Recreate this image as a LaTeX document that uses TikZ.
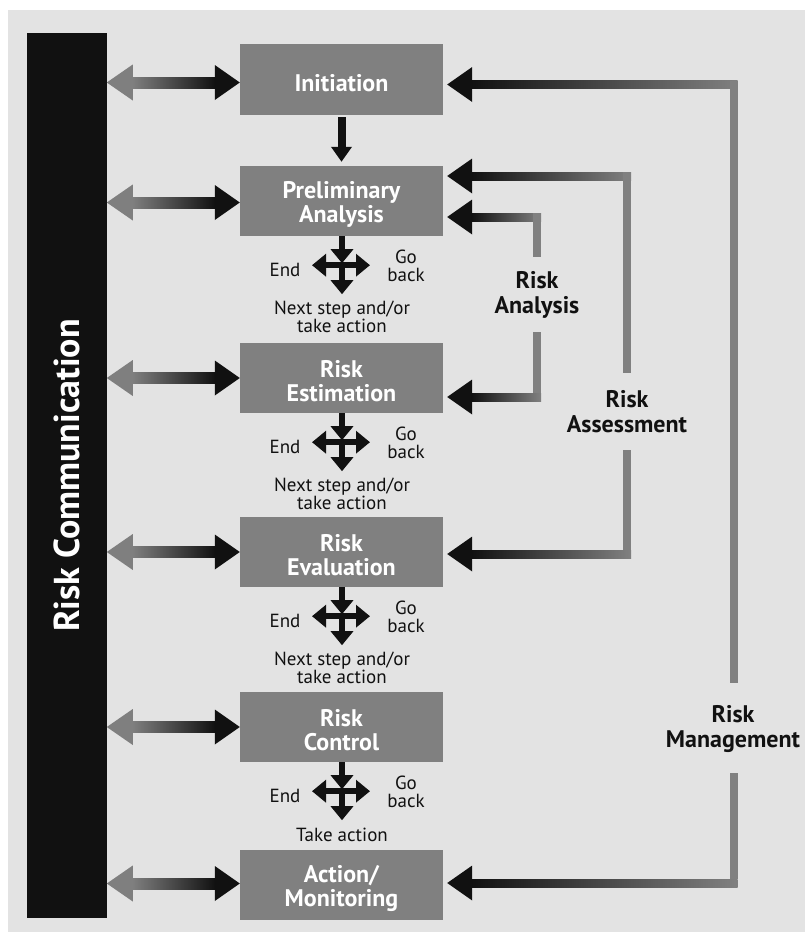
\documentclass[tikz,border=0pt]{standalone}
\usepackage{fontspec}
\setmainfont{PT Sans}
\usetikzlibrary{arrows.meta,calc}
\definecolor{bgc}{HTML}{E3E3E3}
\definecolor{boxc}{HTML}{808080}
\definecolor{dk}{HTML}{111111}
\definecolor{lg}{HTML}{7F7F7F}
\tikzset{
  box/.style={fill=boxc, text=white, minimum width=203pt, minimum height=70pt, inner sep=0pt,
    align=center, font=\bfseries\fontsize{24}{24}\selectfont},
  sidelbl/.style={text=dk, align=center, inner sep=0pt, font=\bfseries\fontsize{24}{25}\selectfont},
  small/.style={text=dk, align=center, inner sep=0pt, font=\fontsize{19}{16.5}\selectfont},
  bigarrow/.style={draw=dk, line width=8pt, -{Triangle[length=15pt,width=20pt]}, fill=dk},
  smallarrow/.style={draw=dk, line width=6pt, -{Triangle[length=14pt,width=22pt]}, fill=dk}
}
\newcommand\commarrow[2]{%
  \begin{scope}[shift={($(#1.west)+(0,#2)$)}]
    \fill[lg] (-133,0) -- (-107,-18) -- (-107,18) -- cycle;
    \shade[left color=lg,right color=dk] (-107.5,-5.5) rectangle (-24.5,5.5);
    \fill[dk] (0,0) -- (-25,-17.5) -- (-25,17.5) -- cycle;
  \end{scope}}
\newcommand\sidearrow[3]{%
  \coordinate (tmp) at ($(#2 -| #1.east)+(4,0)$);
  \fill[dk] (tmp) -- ++(25,-17.5) -- ++(0,35) -- cycle;
  \shade[left color=dk,right color=boxc] ($(tmp)+(24.5,-4)$) rectangle ($(#2)+(4,4)$);
  \fill[boxc] ($(#2)+(-4,-4)$) rectangle ($(#3)+(4,0)$);}
\newcommand\crossarrows[1]{%
  \coordinate (#1-c) at ($(#1.south)+(0.5,29)$);
  \draw[smallarrow] ($(#1.south)+(0.5,0)$) -- ($(#1-c)+(0,-2)$);
  \draw[smallarrow] (#1-c) -- ++(-30,0);
  \draw[smallarrow] (#1-c) -- ++(28,0);
  \draw[smallarrow] (#1-c) -- ++(0,29);
  \node[small] at ($(#1-c)+(-57,5)$) {End};
  \node[small, font=\fontsize{19}{18}\selectfont] at ($(#1-c)+(64,1)$) {Go\\back};}
\begin{document}
\begin{tikzpicture}[x=1pt,y=-1pt]
\useasboundingbox (0,0) rectangle (805,932);
\fill[white] (0,0) rectangle (805,932);
\fill[bgc] (8,10) rectangle (805,932);

% Risk communication bar
\node[fill=dk, text=white, rotate=90, minimum width=885pt, minimum height=80pt, inner sep=0pt,
  font=\bfseries\fontsize{36}{40}\selectfont] (comm) at (67,475.5) {Risk Communication};

% boxes
\node[box, minimum height=71pt] (init) at (341.5,79.5) {};
\node[box] (prelim) at (341.5,201) {};
\node[box] (est) at (341.5,378) {};
\node[box] (eval) at (341.5,552) {};
\node[box] (ctrl) at (341.5,727) {};
\node[box] (act) at (341.5,885) {};
\node[box, fill=none, minimum size=0pt] at ($(init)+(0,4)$) {Initiation};
\node[box, fill=none, minimum size=0pt] at ($(prelim)+(0,3)$) {Preliminary\\Analysis};
\node[box, fill=none, minimum size=0pt] at ($(est)+(0,3)$) {Risk\\Estimation};
\node[box, fill=none, minimum size=0pt] at ($(eval)+(0,3)$) {Risk\\Evaluation};
\node[box, fill=none, minimum size=0pt] at ($(ctrl)+(0,3)$) {Risk\\Control};
\node[box, fill=none, minimum size=0pt] at ($(act)+(0,3)$) {Action/\\Monitoring};

% communication arrows
\commarrow{init}{3}
\commarrow{prelim}{1.5}
\commarrow{est}{0}
\commarrow{eval}{0}
\commarrow{ctrl}{0}
\commarrow{act}{-1.5}

% down arrow
\draw[bigarrow] ($(init.south)+(0,2)$) -- ($(prelim.north)+(0,-4)$);

% cross arrows
\crossarrows{prelim}
\crossarrows{est}
\crossarrows{eval}
\crossarrows{ctrl}
\node[small] at ($(prelim-c)+(0,52)$) {Next step and/or\\take action};
\node[small] at ($(est-c)+(0,52)$) {Next step and/or\\take action};
\node[small] at ($(eval-c)+(0,52)$) {Next step and/or\\take action};
\node[small] at ($(ctrl-c)+(0,44)$) {Take action};

% side labels
\node[sidelbl] (ana) at (537,295) {Risk\\Analysis};
\node[sidelbl] (ass) at (627,412) {Risk\\Assessment};
\node[sidelbl] (man) at (733,729) {Risk\\Management};

% corners and free ends
\coordinate (N1) at (537,217);  \coordinate (N1e) at (537,257);
\coordinate (N2) at (537,397);  \coordinate (N2e) at (537,332);
\coordinate (A1) at (627,176);  \coordinate (A1e) at (627,373);
\coordinate (A2) at (627,554);  \coordinate (A2e) at (627,450);
\coordinate (M1) at (733.5,84.5); \coordinate (M1e) at (733.5,683);
\coordinate (M2) at (733.5,883);  \coordinate (M2e) at (733.5,773);

\sidearrow{init}{M1}{M1e}
\sidearrow{act}{M2}{M2e}
\sidearrow{prelim}{A1}{A1e}
\sidearrow{eval}{A2}{A2e}
\sidearrow{prelim}{N1}{N1e}
\sidearrow{est}{N2}{N2e}
\end{tikzpicture}
\end{document}
